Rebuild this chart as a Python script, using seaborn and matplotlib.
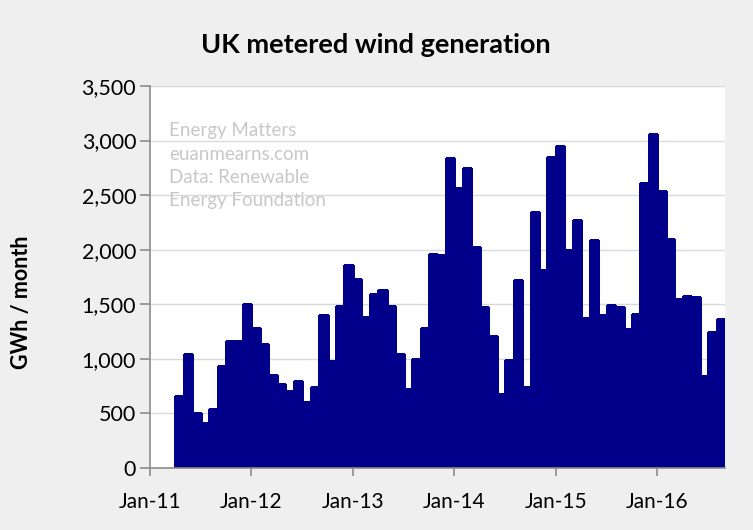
import matplotlib
matplotlib.use("Agg")
import matplotlib.pyplot as plt
import pandas as pd
import seaborn as sns

# ---- data (monthly metered wind generation, GWh) ----
start_month = "2011-04-01"
values = [
    656, 1049, 506, 408, 543, 935, 1165, 1165, 1500,                 # 2011 Apr-Dec
    1279, 1132, 856, 773, 702, 794, 601, 742, 1402, 978, 1484, 1862,  # 2012
    1730, 1380, 1592, 1629, 1481, 1040, 727, 997, 1279, 1963, 1954, 2843,  # 2013
    2567, 2751, 2027, 1472, 1208, 675, 994, 1724, 739, 2346, 1816, 2852,   # 2014
    2953, 2000, 2273, 1374, 2089, 1402, 1491, 1472, 1276, 1408, 2613, 3058, # 2015
    2539, 2098, 1549, 1573, 1564, 840, 1242, 1362,                    # 2016 Jan-Aug
]
tick_years = [2011, 2012, 2013, 2014, 2015, 2016]
tick_labels = ["Jan-11", "Jan-12", "Jan-13", "Jan-14", "Jan-15", "Jan-16"]
y_ticks = [0, 500, 1000, 1500, 2000, 2500, 3000, 3500]
title = "UK metered wind generation"
ylabel = "GWh / month"
watermark = "Energy Matters\neuanmearns.com\nData: Renewable\nEnergy Foundation"

months = pd.date_range(start_month, periods=len(values), freq="MS")
df = pd.DataFrame({"month": months.strftime("%b-%y"), "gwh": values})

sns.set_theme(style="white")
plt.rcParams["font.family"] = ["Lato", "DejaVu Sans"]

W, H = 753, 530
fig = plt.figure(figsize=(W / 100, H / 100), dpi=100, facecolor="#efefef")
ax = fig.add_axes([150 / W, 62 / H, 575 / W, 382 / H])
ax.set_facecolor("white")

sns.barplot(data=df, x="month", y="gwh", color="#00008b", saturation=1,
            width=1.0, edgecolor="#00008b", linewidth=0.8, ax=ax)
for p in ax.patches:
    p.set_antialiased(False)

# x ticks at each January (left edge of January bar)
first = months[0]
tick_pos = [(y - first.year) * 12 + (1 - first.month) - 0.5 for y in tick_years]
ax.set_xticks(tick_pos)
ax.set_xticklabels(tick_labels)
ax.set_xlim(tick_pos[0], len(values) - 0.5)

ax.set_ylim(0, 3500)
ax.set_yticks(y_ticks)
ax.set_yticklabels([f"{v:,}" for v in y_ticks])

ax.set_xlabel("")
ax.set_ylabel("")
ax.yaxis.grid(True, color="#d9d9d9", linewidth=1)
ax.set_axisbelow(True)

for s in ["top", "right"]:
    ax.spines[s].set_visible(False)
for s in ["left", "bottom"]:
    ax.spines[s].set_color("#8c8c8c")
    ax.spines[s].set_linewidth(1.2)
    ax.spines[s].set_zorder(3)

ax.tick_params(axis="y", which="major", length=7, width=1.2, color="#8c8c8c",
               direction="out", left=True, labelsize=15.5, pad=3, labelcolor="black")
ax.tick_params(axis="x", which="major", length=6, width=1.2, color="#8c8c8c",
               direction="out", bottom=True, labelsize=15, pad=11, labelcolor="black")

ax.text(0.033, 0.905, watermark, transform=ax.transAxes, color="#c8c8c8",
        fontsize=13.5, va="top", ha="left", linespacing=1.45)

fig.text(0.4987, (H - 45) / H, title, ha="center", va="center",
         fontsize=19.5, fontweight="bold", color="black")
fig.text(22 / W, (H - 302) / H, ylabel, ha="center", va="center",
         rotation=90, fontsize=15.5, fontweight="bold", color="black")

fig.savefig("out.png", dpi=100, facecolor=fig.get_facecolor())
